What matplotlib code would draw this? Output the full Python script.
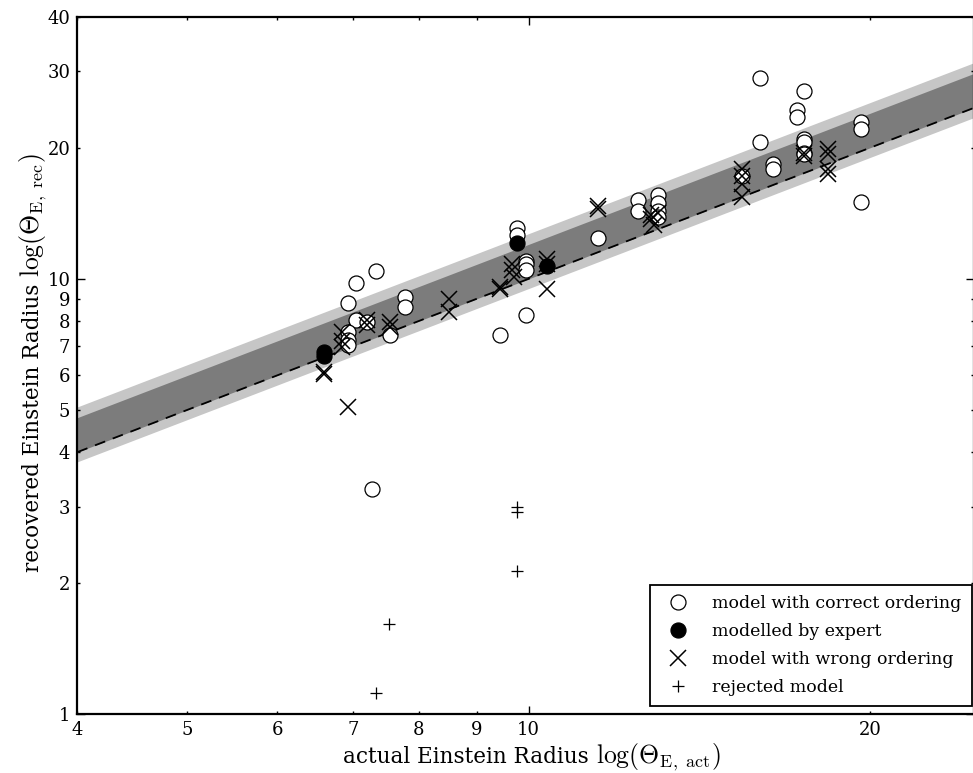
import numpy as np
import matplotlib
matplotlib.use("Agg")
import matplotlib.pyplot as plt
from matplotlib.ticker import FixedLocator, FixedFormatter
from matplotlib.lines import Line2D

plt.rcParams['font.family'] = ['DejaVu Serif']
plt.rcParams['mathtext.fontset'] = 'cm'

# ---- data ----
correct_x = [7.34, 7.04, 6.93, 7.78, 7.78, 7.04, 6.93, 6.93, 6.93, 7.55, 7.20,
             9.77, 9.77, 9.95, 9.95, 9.95, 11.51, 9.95, 9.43, 7.27,
             12.48, 12.48, 13.00, 13.00, 13.00, 13.00,
             16.01, 17.49, 17.24, 17.24, 16.01, 17.49, 17.49, 17.49, 17.49,
             16.42, 16.42, 15.43, 19.64, 19.64, 19.64]
correct_y = [10.4, 9.8, 8.8, 9.1, 8.6, 8.05, 7.55, 7.25, 7.05, 7.45, 7.95,
             13.1, 12.6, 11.0, 10.8, 10.5, 12.4, 8.25, 7.45, 3.3,
             15.2, 14.3, 15.6, 14.9, 14.3, 13.9,
             29.0, 27.0, 24.4, 23.5, 20.6, 21.0, 20.6, 19.5, 19.4,
             18.4, 17.9, 17.2, 22.9, 22.1, 15.0]

expert_x = [6.60, 6.60, 9.77, 10.38]
expert_y = [6.8, 6.65, 12.1, 10.7]

wrong_x = [6.60, 6.60, 6.93, 6.84, 6.84, 6.84, 7.20, 7.20, 7.55, 7.55,
           8.50, 8.50, 9.43, 9.43, 9.66, 9.66, 9.70, 10.38, 10.38, 10.38,
           11.51, 11.51, 12.83, 12.83, 12.90, 13.00,
           15.43, 15.43, 15.43, 15.43, 17.49, 17.49, 18.35, 18.35, 18.35, 18.35]
wrong_y = [6.1, 6.05, 5.08, 7.55, 7.2, 6.98, 8.05, 7.85, 7.95, 7.75,
           9.0, 8.4, 9.6, 9.5, 10.8, 10.5, 10.1, 11.1, 10.8, 9.5,
           14.7, 14.5, 14.0, 13.7, 13.3, 14.2,
           17.9, 17.2, 16.5, 15.4, 19.5, 19.2, 19.9, 19.4, 17.9, 17.4]

rejected_x = [7.53, 7.34, 9.77, 9.77, 9.77]
rejected_y = [1.61, 1.12, 3.00, 2.92, 2.13]

# band factors relative to y = x
dark_band = [1.0, 1.2]
light_band = [0.95, 1.27]

x_limits = [4, 24.7]
y_limits = [1, 40]

x_major = [10]
x_minor = [4, 5, 6, 7, 8, 9, 20]
y_major = [1, 10]
y_minor = [2, 3, 4, 5, 6, 7, 8, 9, 20, 30, 40]

legend_labels = ['model with correct ordering', 'modelled by expert',
                 'model with wrong ordering', 'rejected model']

xlabel_text = 'actual Einstein Radius'
xlabel_math = r'$\log(\Theta_{\mathrm{E,\ act}})$'
ylabel_text = 'recovered Einstein Radius'
ylabel_math = r'$\log(\Theta_{\mathrm{E,\ rec}})$'

# ---- figure ----
W, H = 973, 773
fig = plt.figure(figsize=(W / 100, H / 100), dpi=100)
left_px, right_px, top_px, bot_px = 77.3, 974, 16.7, 714.3
ax = fig.add_axes([left_px / W, (H - bot_px) / H,
                   (right_px - left_px) / W, (bot_px - top_px) / H])
ax.set_xscale('log')
ax.set_yscale('log')
ax.set_xlim(*x_limits)
ax.set_ylim(*y_limits)

xx = np.geomspace(x_limits[0], x_limits[1], 200)
ax.fill_between(xx, xx * light_band[0], xx * light_band[1],
                color='#c6c6c6', lw=0, zorder=1)
ax.fill_between(xx, xx * dark_band[0], xx * dark_band[1],
                color='#7c7c7c', lw=0, zorder=2)
ax.plot(xx, xx, color='black', lw=1.3, ls=(0, (6, 4.5)), zorder=3)

ms = 10.8
ax.plot(correct_x, correct_y, 'o', mfc='white', mec='black', mew=0.9,
        ms=ms, ls='none', zorder=4)
ax.plot(expert_x, expert_y, 'o', mfc='black', mec='black', mew=0.9,
        ms=ms, ls='none', zorder=5)
ax.plot(wrong_x, wrong_y, 'x', color='black', mew=1.1,
        ms=ms + 0.5, ls='none', zorder=6)
ax.plot(rejected_x, rejected_y, '+', color='black', mew=0.9,
        ms=8, ls='none', zorder=7)

# ticks
ax.xaxis.set_major_locator(FixedLocator(x_major))
ax.xaxis.set_major_formatter(FixedFormatter([str(v) for v in x_major]))
ax.xaxis.set_minor_locator(FixedLocator(x_minor))
ax.xaxis.set_minor_formatter(FixedFormatter([str(v) for v in x_minor]))
ax.yaxis.set_major_locator(FixedLocator(y_major))
ax.yaxis.set_major_formatter(FixedFormatter([str(v) for v in y_major]))
ax.yaxis.set_minor_locator(FixedLocator(y_minor))
ax.yaxis.set_minor_formatter(FixedFormatter([str(v) for v in y_minor]))
ax.tick_params(which='both', direction='in', top=True, right=True,
               labelsize=13, width=1.0, pad=5)
ax.tick_params(which='major', length=6)
ax.tick_params(which='minor', length=2.5)
for s in ax.spines.values():
    s.set_linewidth(1.6)

# axis labels: plain text followed by a larger math part
renderer = fig.canvas.get_renderer()
xb = (H - 763) / H
t1 = fig.text(343 / W, xb, xlabel_text, fontsize=15.5, ha='left', va='baseline')
bb = t1.get_window_extent(renderer)
fig.text((bb.x1 + 7) / W, xb, xlabel_math, fontsize=18.5, ha='left', va='baseline')

yb = 39 / W
t3 = fig.text(yb, (H - 572) / H, ylabel_text, fontsize=15.5, rotation=90,
              rotation_mode='anchor', ha='left', va='baseline')
bb = t3.get_window_extent(renderer)
fig.text(yb, (bb.y1 + 7) / H, ylabel_math, fontsize=18.5, rotation=90,
         rotation_mode='anchor', ha='left', va='baseline')

# legend
handles = [
    Line2D([], [], marker='o', mfc='white', mec='black', mew=0.9, ms=ms, ls='none'),
    Line2D([], [], marker='o', mfc='black', mec='black', mew=0.9, ms=ms, ls='none'),
    Line2D([], [], marker='x', color='black', mew=1.1, ms=ms + 0.5, ls='none'),
    Line2D([], [], marker='+', color='black', mew=0.9, ms=8, ls='none'),
]
leg = ax.legend(handles, legend_labels, loc='lower right',
                bbox_to_anchor=((972 - left_px) / (right_px - left_px),
                                (bot_px - 706) / (bot_px - top_px)),
                borderaxespad=0, fontsize=12.5, frameon=True, fancybox=False,
                edgecolor='black', framealpha=1, handletextpad=1.0,
                labelspacing=0.62, borderpad=0.6)
leg.get_frame().set_linewidth(1.3)
leg.set_zorder(10)

fig.savefig('out.png', dpi=100)
